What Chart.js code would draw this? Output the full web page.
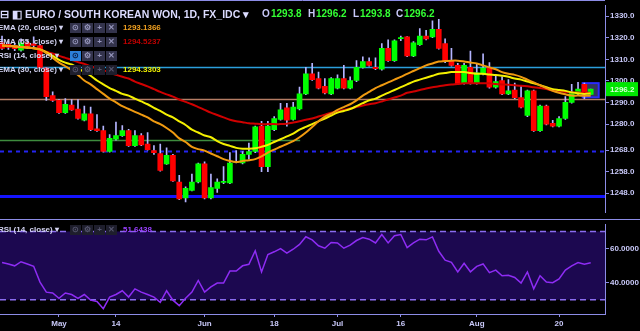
<!DOCTYPE html>
<html>
<head>
<meta charset="utf-8">
<script src="https://cdn.jsdelivr.net/npm/chart.js@4.4.1/dist/chart.umd.min.js"></script>
<style>
  html, body { margin: 0; padding: 0; background: #000; }
  body { width: 640px; height: 331px; overflow: hidden; position: relative; font-family: "Liberation Sans", Arial, sans-serif; }
  .pane { position: absolute; left: 0; width: 640px; }
  #mainPane { top: 0; height: 218px; }
  #rsiPane { top: 219px; height: 112px; }
  .row { position: absolute; left: 0; width: 300px; height: 12px; line-height: 12px; font-size: 8px; font-weight: bold; color: #d4d4f2; white-space: nowrap; z-index: 2; }
  .row .name { position: absolute; left: -2px; }
  .row .btns { position: absolute; left: 70px; top: 1px; }
  .row .btns span { display: inline-block; width: 11px; height: 10px; margin-right: 1px; background: #33334c; color: #9696bc; font-size: 8px; line-height: 10px; text-align: center; vertical-align: top; }
  .row .btns.faded span { background: #1e1e2c; color: #55556e; }
  .row .btns span.on { background: #2c7fd8; color: #0a1a40; }
  .row .val { position: absolute; left: 123px; }
  #title { position: absolute; top: 7px; left: 0; height: 14px; width: 460px; white-space: nowrap; z-index: 2; color: #dcdcff; font-weight: bold; }
  #title span { position: absolute; top: 0; line-height: 14px; }
  #title .big { font-size: 10.5px; }
  #title .k { font-size: 10px; color: #c8c8f8; }
  #title .g { font-size: 10px; color: #33ff33; }
</style>
</head>
<body>
<div id="mainPane" class="pane"><canvas id="mainChart"></canvas></div>
<div id="rsiPane" class="pane"><canvas id="rsiChart"></canvas></div>

<div id="title">
  <span class="big" style="left:0">⊟</span>
  <span class="big" style="left:12px">◧</span>
  <span class="big" style="left:25px">EURO / SOUTH KOREAN WON, 1D, FX_IDC ▾</span>
  <span class="k" style="left:262px">O</span><span class="g" id="vO" style="left:271px"></span>
  <span class="k" style="left:308px">H</span><span class="g" id="vH" style="left:316px"></span>
  <span class="k" style="left:353px">L</span><span class="g" id="vL" style="left:360px"></span>
  <span class="k" style="left:396px">C</span><span class="g" id="vC" style="left:404px"></span>
</div>
<div class="row" style="top:22px"><span class="name">EMA (20, close) ▾</span><span class="btns"><span>⊙</span><span>⚙</span><span>+</span><span>✕</span></span><span class="val" id="v20" style="color:#f0a020"></span></div>
<div class="row" style="top:36px"><span class="name">EMA (55, close) ▾</span><span class="btns"><span>⊙</span><span>⚙</span><span>+</span><span>✕</span></span><span class="val" id="v55" style="color:#c00000"></span></div>
<div class="row" style="top:50px"><span class="name">RSI (14, close) ▾</span><span class="btns"><span class="on">⊙</span><span>⚙</span><span>+</span><span>✕</span></span></div>
<div class="row" style="top:64px"><span class="name">EMA (30, close) ▾</span><span class="btns faded"><span>⊙</span><span>⚙</span><span>+</span><span>✕</span></span><span class="val" id="v30" style="color:#f0f000"></span></div>
<div class="row" style="top:224px"><span class="name">RSI (14, close) ▾</span><span class="btns faded"><span>⊙</span><span>⚙</span><span>+</span><span>✕</span></span><span class="val" id="vRsi" style="color:#9a40ff"></span></div>

<script>
// daily candles, first one is 2018-04-18 (weekdays only)
const opens = [1317.7, 1317.0, 1316.5, 1314.2, 1317.7, 1317.2, 1316.4, 1305.9, 1293.2, 1291.0,
  1285.3, 1288.8, 1287.0, 1281.8, 1284.8, 1277.8, 1277.0, 1267.3, 1273.0, 1274.7,
  1277.0, 1270.0, 1274.7, 1270.8, 1267.7, 1266.4, 1261.6, 1265.5, 1253.2, 1245.8,
  1249.3, 1253.2, 1261.6, 1245.8, 1250.2, 1253.0, 1252.8, 1262.2, 1262.0, 1266.0,
  1267.3, 1279.1, 1260.3, 1277.4, 1282.2, 1287.5, 1282.2, 1287.0, 1294.0, 1303.3,
  1301.1, 1297.5, 1294.0, 1296.7, 1301.1, 1296.7, 1300.2, 1306.3, 1309.0, 1306.3,
  1305.4, 1315.1, 1309.4, 1319.6, 1320.4, 1311.6, 1316.8, 1320.8, 1320.4, 1323.9,
  1317.3, 1309.4, 1307.2, 1298.9, 1306.3, 1298.9, 1303.3, 1306.3, 1297.1, 1300.2,
  1294.0, 1295.8, 1292.3, 1284.0, 1295.4, 1277.0, 1288.3, 1280.4, 1279.1, 1282.6,
  1290.1, 1294.0, 1298.4, 1293.8];
const highs = [1320.8, 1318.5, 1317.5, 1319.5, 1318.5, 1320.4, 1317.0, 1306.3, 1294.9, 1291.4,
  1291.8, 1291.4, 1291.4, 1288.3, 1287.9, 1284.4, 1279.1, 1275.2, 1280.9, 1279.3,
  1277.6, 1277.0, 1275.6, 1276.1, 1270.0, 1270.8, 1269.0, 1266.0, 1256.3, 1251.0,
  1256.8, 1262.0, 1262.5, 1256.8, 1254.6, 1260.3, 1266.8, 1267.7, 1267.3, 1271.2,
  1279.1, 1281.3, 1281.3, 1283.5, 1289.6, 1289.6, 1290.1, 1297.1, 1306.3, 1308.1,
  1304.1, 1301.1, 1301.5, 1302.8, 1307.2, 1301.9, 1309.4, 1311.2, 1310.7, 1310.7,
  1317.3, 1319.0, 1319.0, 1320.8, 1320.6, 1318.2, 1324.3, 1323.4, 1327.8, 1328.5,
  1319.5, 1315.1, 1308.1, 1308.1, 1313.8, 1308.1, 1312.5, 1308.5, 1302.8, 1301.9,
  1300.6, 1299.0, 1298.0, 1295.8, 1295.8, 1288.8, 1288.8, 1281.8, 1283.5, 1292.7,
  1298.4, 1299.3, 1299.0, 1296.2];
const lows = [1314.6, 1314.6, 1314.0, 1313.8, 1315.0, 1315.8, 1305.9, 1291.0, 1290.5, 1285.0,
  1285.0, 1286.3, 1282.3, 1281.5, 1277.0, 1276.6, 1267.0, 1267.0, 1272.6, 1274.3,
  1269.7, 1269.7, 1270.0, 1267.9, 1266.0, 1258.2, 1261.3, 1253.4, 1245.0, 1244.0,
  1249.0, 1252.8, 1245.4, 1245.4, 1248.4, 1252.4, 1252.4, 1262.0, 1261.6, 1263.8,
  1266.8, 1258.0, 1258.0, 1277.0, 1281.8, 1279.1, 1281.8, 1286.6, 1293.6, 1300.2,
  1296.3, 1294.0, 1293.6, 1296.3, 1296.3, 1296.3, 1299.7, 1305.9, 1306.8, 1305.2,
  1305.0, 1309.0, 1309.0, 1318.6, 1311.2, 1311.2, 1316.4, 1319.0, 1320.0, 1314.7,
  1308.5, 1306.8, 1298.5, 1298.5, 1298.5, 1298.5, 1302.8, 1296.7, 1296.7, 1293.6,
  1293.6, 1291.8, 1287.5, 1283.5, 1276.6, 1276.6, 1279.6, 1278.7, 1278.7, 1282.2,
  1289.7, 1293.6, 1291.8, 1293.8];
const closes = [1315.1, 1315.5, 1315.0, 1317.7, 1316.0, 1316.4, 1306.3, 1292.7, 1291.0, 1285.3,
  1289.2, 1286.6, 1282.6, 1284.8, 1277.4, 1277.0, 1267.3, 1273.4, 1274.7, 1277.0,
  1270.0, 1274.7, 1270.4, 1268.2, 1266.8, 1258.5, 1265.5, 1253.7, 1245.4, 1250.2,
  1253.2, 1261.6, 1245.8, 1250.6, 1253.2, 1253.4, 1262.0, 1262.6, 1266.0, 1267.3,
  1278.7, 1260.3, 1279.1, 1282.6, 1286.6, 1281.8, 1287.9, 1294.0, 1303.3, 1300.6,
  1296.7, 1294.5, 1301.1, 1301.1, 1296.7, 1300.2, 1306.3, 1309.0, 1307.2, 1305.7,
  1315.1, 1309.4, 1318.6, 1320.0, 1311.6, 1317.7, 1320.8, 1319.5, 1323.9, 1315.1,
  1309.0, 1307.2, 1298.9, 1307.2, 1298.9, 1303.7, 1305.9, 1297.1, 1299.7, 1294.0,
  1295.4, 1292.3, 1287.9, 1295.4, 1277.0, 1288.3, 1280.0, 1279.1, 1282.6, 1290.1,
  1294.5, 1296.2, 1294.0, 1296.2];

const ema20 = [1316.4, 1316.2, 1316.0, 1315.7, 1315.5, 1315.1, 1314.6, 1312.9, 1310.7, 1308.5,
  1306.8, 1305.0, 1302.8, 1300.2, 1298.4, 1296.2, 1294.0, 1291.8, 1290.1, 1288.3,
  1287.0, 1285.7, 1284.4, 1283.1, 1281.3, 1280.0, 1278.2, 1276.1, 1273.4, 1271.7,
  1269.5, 1268.4, 1267.7, 1266.4, 1265.1, 1263.8, 1262.9, 1262.4, 1262.9, 1263.3,
  1263.8, 1265.1, 1266.8, 1268.2, 1269.5, 1270.8, 1272.1, 1273.9, 1276.1, 1278.7,
  1281.3, 1283.5, 1284.8, 1286.6, 1287.9, 1289.2, 1291.0, 1293.2, 1294.9, 1296.7,
  1298.0, 1299.3, 1300.6, 1301.9, 1303.3, 1304.6, 1305.9, 1307.2, 1308.1, 1309.0,
  1309.2, 1309.4, 1309.4, 1309.0, 1308.5, 1308.1, 1307.2, 1306.3, 1305.4, 1304.1,
  1303.3, 1302.8, 1301.9, 1300.6, 1299.3, 1298.0, 1296.7, 1295.4, 1294.5, 1293.8,
  1293.2, 1293.2, 1293.1, 1293.1366];
const ema55 = [1316.4, 1316.2, 1316.0, 1315.7, 1315.5, 1315.1, 1314.6, 1313.5, 1312.7, 1311.6,
  1310.7, 1309.8, 1308.7, 1307.9, 1306.8, 1305.9, 1305.0, 1303.9, 1302.8, 1301.9,
  1301.1, 1299.7, 1298.6, 1297.5, 1296.2, 1294.9, 1293.8, 1292.7, 1291.4, 1290.3,
  1289.2, 1287.9, 1286.6, 1285.3, 1284.2, 1283.1, 1282.0, 1281.3, 1280.9, 1280.4,
  1280.2, 1280.0, 1280.0, 1280.0, 1280.0, 1280.2, 1280.7, 1281.3, 1282.0, 1282.6,
  1283.5, 1284.4, 1285.3, 1285.9, 1286.6, 1287.2, 1287.9, 1288.6, 1289.2, 1289.7,
  1290.5, 1291.4, 1292.3, 1293.2, 1294.5, 1295.1, 1295.8, 1296.5, 1297.1, 1297.5,
  1298.0, 1298.4, 1298.6, 1298.9, 1298.9, 1298.9, 1298.9, 1298.9, 1298.6, 1298.4,
  1298.2, 1298.0, 1297.8, 1297.5, 1297.1, 1296.7, 1296.2, 1295.6, 1295.4, 1294.9,
  1294.7, 1294.6, 1294.5, 1294.5237];
const ema30 = [1316.4, 1316.2, 1316.0, 1315.7, 1315.5, 1315.1, 1314.6, 1313.3, 1311.6, 1309.8,
  1308.5, 1307.6, 1305.9, 1304.1, 1302.4, 1300.2, 1298.4, 1296.7, 1295.4, 1294.0,
  1293.2, 1291.8, 1290.5, 1289.2, 1287.5, 1286.1, 1284.4, 1283.1, 1281.3, 1279.6,
  1277.4, 1276.1, 1274.7, 1273.9, 1272.1, 1270.8, 1269.9, 1269.0, 1268.6, 1268.6,
  1268.8, 1269.5, 1270.4, 1271.7, 1273.0, 1274.3, 1275.6, 1277.4, 1278.7, 1280.0,
  1281.3, 1282.6, 1284.0, 1285.3, 1286.1, 1287.0, 1288.3, 1289.7, 1291.0, 1291.8,
  1293.2, 1294.5, 1295.8, 1297.1, 1298.4, 1299.7, 1300.6, 1301.5, 1302.4, 1303.3,
  1303.7, 1304.1, 1304.1, 1304.1, 1303.7, 1303.3, 1303.3, 1303.0, 1302.8, 1302.4,
  1301.9, 1301.1, 1300.6, 1299.7, 1298.9, 1298.0, 1297.1, 1296.2, 1295.8, 1295.4,
  1294.7, 1294.3, 1294.0, 1294.3303];
const rsi14 = [51.8, 51.0, 49.9, 52.3, 51.0, 49.6, 40.4, 34.5, 34.0, 30.9,
  34.0, 33.1, 30.9, 33.1, 29.8, 29.0, 24.8, 31.6, 33.1, 35.3,
  31.6, 36.4, 34.5, 33.1, 31.6, 28.5, 35.3, 29.8, 26.6, 30.9,
  34.5, 41.3, 34.5, 37.6, 39.8, 39.8, 46.8, 46.8, 49.9, 50.8,
  58.7, 46.3, 56.5, 58.1, 60.0, 57.3, 59.6, 62.4, 66.9, 65.1,
  61.6, 60.2, 63.6, 63.3, 60.2, 62.0, 64.7, 66.4, 65.5, 63.3,
  68.2, 63.3, 67.5, 68.2, 60.5, 63.3, 65.5, 65.1, 66.8, 58.4,
  53.2, 51.9, 46.3, 51.4, 46.4, 49.6, 51.0, 45.9, 47.4, 44.1,
  44.4, 43.1, 39.8, 46.3, 36.4, 44.1, 40.4, 40.0, 42.2, 47.4,
  49.9, 51.8, 50.8, 51.6438];

// drawn price levels: cyan, brown, green (short), blue dashed, blue
const levels = [1306.4, 1291.6, 1272.5, 1267.4, 1246.6];
const priceTicks = [1330, 1320, 1310, 1300, 1290, 1280, 1268, 1258, 1248];
const rsiTicks = [60, 40];
const rsiBands = [70, 30];
const tickDates = ['2018-05-01', '2018-05-14', '2018-06-01', '2018-06-18', '2018-07-02', '2018-07-16', '2018-08-01', '2018-08-20'];
const tickLabels = ['May', '14', 'Jun', '18', 'Jul', '16', 'Aug', '20'];

// trading days
const dates = [];
{
  const d = new Date(Date.UTC(2018, 3, 18));
  while (dates.length < closes.length) {
    const wd = d.getUTCDay();
    if (wd !== 0 && wd !== 6) dates.push(d.toISOString().slice(0, 10));
    d.setUTCDate(d.getUTCDate() + 1);
  }
}
const tickIdx = tickDates.map(t => dates.indexOf(t));
const last = closes.length - 1;

const AXIS = '#8c8ce6';
const LABEL = '#c8c8f8';
const X_MIN = -0.32, X_MAX = 95.26;

document.getElementById('vO').textContent = opens[last].toFixed(1);
document.getElementById('vH').textContent = highs[last].toFixed(1);
document.getElementById('vL').textContent = lows[last].toFixed(1);
document.getElementById('vC').textContent = closes[last].toFixed(1);
document.getElementById('v20').textContent = ema20[last].toFixed(4);
document.getElementById('v55').textContent = ema55[last].toFixed(4);
document.getElementById('v30').textContent = ema30[last].toFixed(4);
document.getElementById('vRsi').textContent = rsi14[last].toFixed(4);

Chart.defaults.font.family = '"Liberation Sans", Arial, sans-serif';

const pts = arr => arr.map((v, k) => ({ x: k, y: v }));
const candleColor = dates.map((_, k) => closes[k] >= opens[k] ? '#00ff00' : '#ff0000');

const levelStyle = [
  { color: '#2b9fdc', width: 1.5 },
  { color: '#b47c64', width: 1.5 },
  { color: '#3e8c3e', width: 1.5, endIdx: 47.1 },
  { color: '#2424f0', width: 2, dash: [4, 4] },
  { color: '#1414ff', width: 3 }
];

const mainDecor = {
  id: 'mainDecor',
  beforeDatasetsDraw(chart) {
    const { ctx, chartArea: a, scales: { x, y } } = chart;
    ctx.save();
    levels.forEach((v, k) => {
      const s = levelStyle[k];
      const py = Math.round(y.getPixelForValue(v)) + 0.5;
      ctx.strokeStyle = s.color;
      ctx.lineWidth = s.width;
      ctx.setLineDash(s.dash || []);
      ctx.beginPath();
      ctx.moveTo(a.left, py);
      ctx.lineTo(s.endIdx ? x.getPixelForValue(s.endIdx) : a.right, py);
      ctx.stroke();
    });
    ctx.setLineDash([]);
    // highlight box around the last candle
    const cx = x.getPixelForValue(last);
    const top = y.getPixelForValue(highs[last]) - 6;
    const bot = y.getPixelForValue(lows[last]) + 3;
    ctx.fillStyle = 'rgba(70,70,120,0.75)';
    ctx.fillRect(cx - 8, top, 16, bot - top);
    ctx.strokeStyle = '#2a2aff';
    ctx.lineWidth = 2;
    ctx.strokeRect(cx - 8, top, 16, bot - top);
    // top border
    ctx.strokeStyle = AXIS;
    ctx.lineWidth = 1;
    ctx.beginPath();
    ctx.moveTo(0, 0.5);
    ctx.lineTo(a.right, 0.5);
    ctx.stroke();
    ctx.restore();
  },
  afterDraw(chart) {
    const { ctx, chartArea: a, scales: { y } } = chart;
    const py = y.getPixelForValue(closes[last]);
    ctx.save();
    ctx.fillStyle = '#00e600';
    ctx.fillRect(a.right + 1, py - 7, 32, 14);
    ctx.fillStyle = '#d8ffd8';
    ctx.font = 'bold 8px "Liberation Sans", Arial, sans-serif';
    ctx.textBaseline = 'middle';
    ctx.fillText(closes[last].toFixed(1), a.right + 5, py + 0.5);
    ctx.restore();
  }
};

new Chart(document.getElementById('mainChart'), {
  type: 'bar',
  data: {
    datasets: [
      { type: 'line', data: pts(ema20), borderColor: '#f09a10', borderWidth: 2, pointRadius: 0, tension: 0.3, order: 0 },
      { type: 'line', data: pts(ema30), borderColor: '#f4f000', borderWidth: 2, pointRadius: 0, tension: 0.3, order: 0 },
      { type: 'line', data: pts(ema55), borderColor: '#d00000', borderWidth: 2, pointRadius: 0, tension: 0.3, order: 0 },
      { data: dates.map((_, k) => ({ x: k, y: [opens[k], closes[k]] })), backgroundColor: candleColor, barThickness: 5, grouped: false, minBarLength: 1, order: 1 },
      { data: dates.map((_, k) => ({ x: k, y: [lows[k], highs[k]] })), backgroundColor: '#b4b4ff', barThickness: 1, grouped: false, order: 2 }
    ]
  },
  options: {
    responsive: true,
    maintainAspectRatio: false,
    animation: false,
    events: [],
    layout: { padding: 0 },
    plugins: { legend: { display: false }, tooltip: { enabled: false } },
    scales: {
      x: { type: 'linear', min: X_MIN, max: X_MAX, offset: false, display: false },
      y: {
        position: 'right',
        min: 1239.2,
        max: 1334.8,
        afterBuildTicks: s => { s.ticks = priceTicks.map(v => ({ value: v })); },
        afterFit: s => { s.width = 35; },
        ticks: { color: LABEL, font: { size: 8, weight: 'bold' }, padding: 1, callback: v => v.toFixed(1) },
        grid: { drawOnChartArea: false, drawTicks: true, tickLength: 4, color: AXIS },
        border: { display: true, color: AXIS }
      }
    }
  },
  plugins: [mainDecor]
});

const rsiDecor = {
  id: 'rsiDecor',
  beforeDatasetsDraw(chart) {
    const { ctx, chartArea: a, scales: { y } } = chart;
    const y1 = y.getPixelForValue(rsiBands[0]);
    const y2 = y.getPixelForValue(rsiBands[1]);
    ctx.save();
    ctx.fillStyle = '#1c0850';
    ctx.fillRect(a.left, y1, a.right - a.left, y2 - y1);
    ctx.strokeStyle = '#8a6cf0';
    ctx.lineWidth = 1.5;
    ctx.setLineDash([6, 4]);
    [y1, y2].forEach(py => {
      ctx.beginPath();
      ctx.moveTo(a.left, py);
      ctx.lineTo(a.right, py);
      ctx.stroke();
    });
    ctx.setLineDash([]);
    ctx.strokeStyle = AXIS;
    ctx.lineWidth = 1;
    ctx.beginPath();
    ctx.moveTo(0, 0.5);
    ctx.lineTo(chart.width, 0.5);
    ctx.stroke();
    ctx.restore();
  }
};

new Chart(document.getElementById('rsiChart'), {
  type: 'line',
  data: {
    datasets: [
      { data: pts(rsi14), borderColor: '#8e2cf4', borderWidth: 1.5, pointRadius: 0, tension: 0 }
    ]
  },
  options: {
    responsive: true,
    maintainAspectRatio: false,
    animation: false,
    events: [],
    layout: { padding: 0 },
    plugins: { legend: { display: false }, tooltip: { enabled: false } },
    scales: {
      x: {
        type: 'linear', min: X_MIN, max: X_MAX, offset: false,
        afterBuildTicks: s => { s.ticks = tickIdx.map(v => ({ value: v })); },
        afterFit: s => { s.height = 17; },
        ticks: { color: LABEL, font: { size: 8, weight: 'bold' }, padding: 2, autoSkip: false, maxRotation: 0,
          callback: v => tickLabels[tickIdx.indexOf(v)] },
        grid: { drawOnChartArea: false, drawTicks: true, tickLength: 3, color: AXIS },
        border: { display: true, color: AXIS }
      },
      y: {
        position: 'right',
        min: 21.7,
        max: 73.9,
        afterBuildTicks: s => { s.ticks = rsiTicks.map(v => ({ value: v })); },
        afterFit: s => { s.width = 35; },
        ticks: { color: LABEL, font: { size: 8, weight: 'bold' }, padding: 1, callback: v => v.toFixed(4) },
        grid: { drawOnChartArea: false, drawTicks: true, tickLength: 4, color: AXIS },
        border: { display: true, color: AXIS }
      }
    }
  },
  plugins: [rsiDecor]
});
</script>
</body>
</html>
